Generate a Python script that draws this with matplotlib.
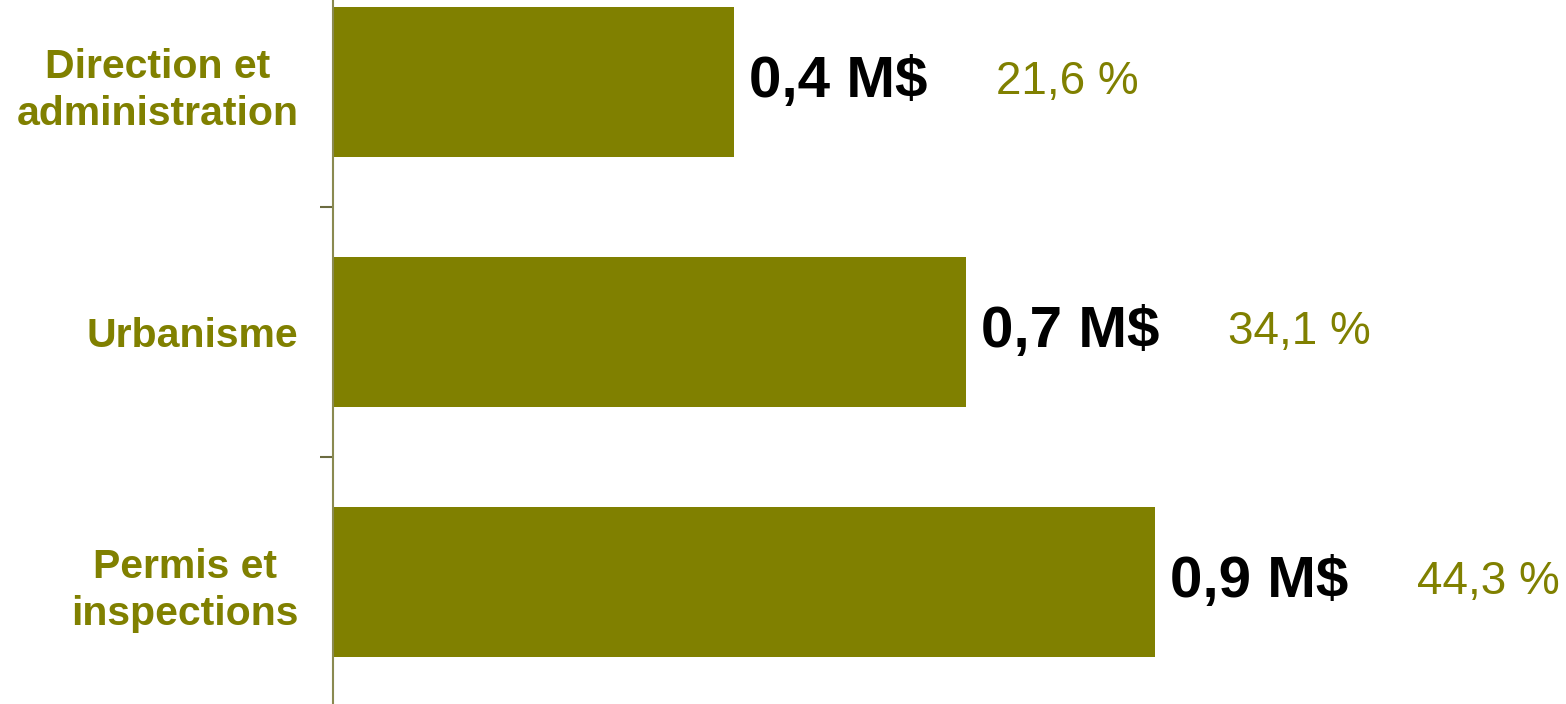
import numpy as np
import matplotlib.pyplot as plt

categories = ['Direction et\nadministration', 'Urbanisme', 'Permis et\ninspections']
montants = ['0,4 M$', '0,7 M$', '0,9 M$']
parts = [21.6, 34.1, 44.3]

olive = '#808000'
plt.rcParams['font.family'] = ['Liberation Sans', 'DejaVu Sans']

fig = plt.figure(figsize=(15.66, 7.04), dpi=100)
ax = fig.add_axes([333 / 1566, 0, 1 - 333 / 1566, 1])

y = np.arange(len(categories))
ax.barh(y, parts, height=0.6, color=olive)

for i, (m, p) in enumerate(zip(montants, parts)):
    ax.annotate(m, xy=(p, i), xytext=(15, 0), textcoords='offset pixels',
                ha='left', va='center', fontsize=42, fontweight='bold', color='black')
    ax.annotate(f'{p:.1f} %'.replace('.', ','), xy=(p, i), xytext=(262, 0),
                textcoords='offset pixels', ha='left', va='center',
                fontsize=33, color=olive)

ax.set_xlim(0, 1233 / 18.56)
ax.set_ylim(2.49, -0.33)

# tick marks between categories, labels at centers
ax.set_yticks([0.5, 1.5])
ax.set_yticklabels([])
ax.tick_params(axis='y', which='major', length=9.5, width=1.5, color='#6b6b40')
ax.set_yticks(y, minor=True)
ax.set_yticklabels(categories, minor=True, fontsize=29.5, fontweight='bold',
                   color=olive, multialignment='center', linespacing=1.3)
ax.tick_params(axis='y', which='minor', length=0, pad=25)

ax.set_xticks([])
for s in ['top', 'right', 'bottom']:
    ax.spines[s].set_visible(False)
ax.spines['left'].set_color('#8a8a50')
ax.spines['left'].set_linewidth(1.5)

fig.savefig('out.png', dpi=100)
